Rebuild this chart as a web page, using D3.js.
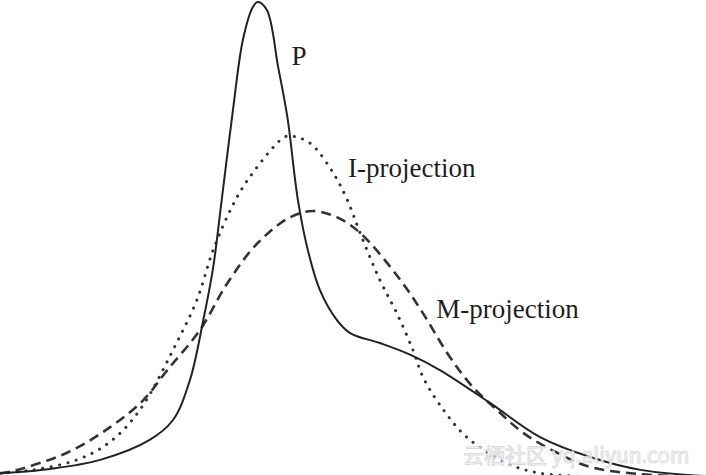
<!DOCTYPE html>
<html><head><meta charset="utf-8">
<script src="https://cdn.jsdelivr.net/npm/d3@7"></script>
<style>html,body{margin:0;padding:0;background:#fff;}svg{display:block;}</style>
</head><body>
<svg id="chart" width="706" height="475"></svg>
<script>
// Curve P (true distribution): x positions and densities
const pX = [0,0.71,1.42,2.12,2.45,2.69,2.88,3.02,3.14,3.30,3.44,3.58,3.65,3.78,3.94,4.07,4.22,4.36,4.53,4.77,4.96,5.38,5.80,6.23,6.94,7.65,8.36,9.07,10.0];
const pY = [0.008,0.017,0.036,0.078,0.120,0.204,0.331,0.442,0.583,0.773,0.920,0.989,1.000,0.983,0.863,0.758,0.583,0.478,0.394,0.331,0.303,0.282,0.258,0.225,0.156,0.084,0.042,0.015,0.002];
// I-projection (dotted)
const iX = [0,0.47,1.09,1.56,1.98,2.52,2.79,3.02,3.30,3.54,4.01,4.11,4.39,4.72,4.92,5.10,5.38,5.62,5.85,5.99,6.23,6.61,7.18,7.65,8.50];
const iY = [0.008,0.015,0.036,0.074,0.141,0.288,0.373,0.478,0.573,0.632,0.714,0.718,0.703,0.640,0.583,0.514,0.415,0.345,0.267,0.211,0.152,0.084,0.029,0.008,0.0];
// M-projection (dashed)
const mX = [0,0.14,0.95,1.56,2.03,2.37,2.83,3.22,3.64,4.11,4.43,4.77,5.10,5.67,5.99,6.37,6.70,7.04,7.41,7.89,8.36,9.07,10.0];
const mY = [0.008,0.011,0.051,0.105,0.162,0.225,0.309,0.408,0.491,0.547,0.560,0.547,0.514,0.415,0.345,0.253,0.189,0.141,0.093,0.051,0.021,0.006,0.0];
// Labels
const labels = ["P","I-projection","M-projection"];
const labelPos = [[4.13,0.868],[4.93,0.632],[6.18,0.334]];
const watermark = "云栖社区 yq.aliyun.com";

const svg = d3.select("#chart");
const x = d3.scaleLinear().domain([0,10]).range([0,706]);
const y = d3.scaleLinear().domain([0,1]).range([477,2]);

const line = d3.line().x(d=>x(d[0])).y(d=>y(d[1])).curve(d3.curveCatmullRom.alpha(0.5));
const zip = (a,b)=>a.map((v,i)=>[v,b[i]]);

svg.append("path").datum(zip(iX,iY)).attr("d",line)
  .attr("fill","none").attr("stroke","#333").attr("stroke-width",3)
  .attr("stroke-linecap","round").attr("stroke-dasharray","0.1 8.5");
svg.append("path").datum(zip(mX,mY)).attr("d",line)
  .attr("fill","none").attr("stroke","#333").attr("stroke-width",2.6)
  .attr("stroke-dasharray","10 6");
svg.append("path").datum(zip(pX,pY)).attr("d",line)
  .attr("fill","none").attr("stroke","#222").attr("stroke-width",2);

svg.selectAll("text.lab").data(labels).enter().append("text")
  .attr("class","lab")
  .attr("x",(d,i)=>x(labelPos[i][0]))
  .attr("y",(d,i)=>y(labelPos[i][1]))
  .attr("font-family","'Liberation Serif','Times New Roman',serif")
  .attr("font-size",27).attr("fill","#1e1e1e").text(d=>d);

svg.append("text").attr("x",463).attr("y",463)
  .attr("font-family","'Noto Sans CJK SC','DejaVu Sans',sans-serif")
  .attr("font-size",21).attr("fill","#fff").attr("stroke","#d8d8d8").attr("stroke-width",1)
  .attr("opacity",0.9).text(watermark);
</script>
</body></html>
